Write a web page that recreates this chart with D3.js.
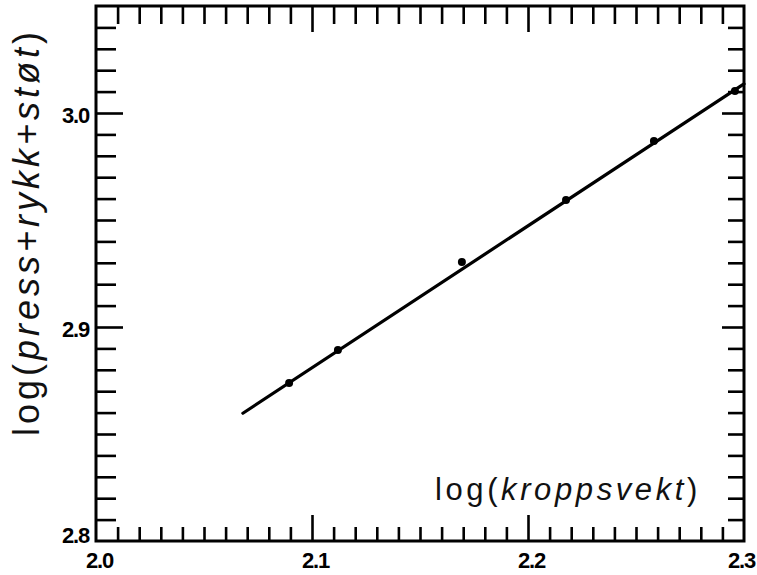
<!DOCTYPE html>
<html>
<head>
<meta charset="utf-8">
<script src="https://cdn.jsdelivr.net/npm/d3@7"></script>
<style>
  html, body { margin: 0; padding: 0; background: #fff; }
  svg { display: block; }
</style>
</head>
<body>
<svg id="chart" width="757" height="575"></svg>
<script>
// Measured points: log(body weight) vs log(press + snatch + clean&jerk)
const logBodyWeight = [2.0894, 2.1120, 2.1694, 2.2176, 2.2583, 2.2958];
const logTotal      = [2.8738, 2.8893, 2.9304, 2.9593, 2.9869, 3.0103];

// Fitted regression line end points
const fitX = [2.068, 2.3];
const fitY = [2.8597, 3.0136];

// Axis ranges and labelled ticks
const xDomain = [2.0, 2.3];
const yDomain = [2.8, 3.05];
const xMajorTicks = [2.0, 2.1, 2.2, 2.3];
const xTickLabels = ["2.0", "2.1", "2.2", "2.3"];
const yMajorTicks = [2.8, 2.9, 3.0];
const yTickLabels = ["2.8", "2.9", "3.0"];
const minorStep = 0.01;

const svg = d3.select("#chart");
const plotLeft = 96, plotRight = 744, plotTop = 6, plotBottom = 541;

const x = d3.scaleLinear().domain(xDomain).range([plotLeft, plotRight]);
const y = d3.scaleLinear().domain(yDomain).range([plotBottom, plotTop]);

const near = (a, b) => Math.abs(a - b) < 1e-6;
const stepsX = Math.round((xDomain[1] - xDomain[0]) / minorStep);
const stepsY = Math.round((yDomain[1] - yDomain[0]) / minorStep);
const xMinor = d3.range(1, stepsX).map(i => +(xDomain[0] + i * minorStep).toFixed(2))
  .filter(v => !xMajorTicks.some(m => near(m, v)));
const yMinor = d3.range(1, stepsY).map(i => +(yDomain[0] + i * minorStep).toFixed(2))
  .filter(v => !yMajorTicks.some(m => near(m, v)));
const xMajorInner = xMajorTicks.filter(v => v > xDomain[0] && v < xDomain[1]);
const yMajorInner = yMajorTicks.filter(v => v > yDomain[0] && v < yDomain[1]);

const tickStroke = 2.6;

function styleTicks(g) {
  g.select(".domain").remove();
  g.selectAll(".tick line").attr("stroke", "#000").attr("stroke-width", tickStroke);
}

// Inward tick marks on all four sides
function ticksOn(axisFn, scale, values, size, transform) {
  svg.append("g")
    .attr("transform", transform)
    .call(axisFn(scale).tickValues(values).tickSize(-size).tickFormat(""))
    .call(styleTicks);
}

ticksOn(d3.axisTop, x, xMinor, 18, `translate(0,${plotTop})`);
ticksOn(d3.axisTop, x, xMajorInner, 26, `translate(0,${plotTop})`);
ticksOn(d3.axisBottom, x, xMinor, 14, `translate(0,${plotBottom})`);
ticksOn(d3.axisBottom, x, xMajorInner, 26, `translate(0,${plotBottom})`);
ticksOn(d3.axisLeft, y, yMinor, 20, `translate(${plotLeft},0)`);
ticksOn(d3.axisLeft, y, yMajorInner, 27, `translate(${plotLeft},0)`);
ticksOn(d3.axisRight, y, yMinor, 16, `translate(${plotRight},0)`);
ticksOn(d3.axisRight, y, yMajorInner, 22, `translate(${plotRight},0)`);

// Tick labels
const labelFont = "'Liberation Sans', Arial, sans-serif";

const xLab = svg.append("g")
  .attr("transform", `translate(0,${plotBottom})`)
  .call(d3.axisBottom(x).tickValues(xMajorTicks).tickSize(0).tickPadding(11)
    .tickFormat((d, i) => xTickLabels[i]));
xLab.select(".domain").remove();
xLab.selectAll("text")
  .attr("font-family", labelFont).attr("font-size", 22).attr("font-weight", "bold")
  .attr("letter-spacing", -1.2).attr("fill", "#000")
  .attr("dx", d => near(d, xDomain[1]) ? -3 : 3);

const yLab = svg.append("g")
  .attr("transform", `translate(${plotLeft},0)`)
  .call(d3.axisLeft(y).tickValues(yMajorTicks).tickSize(0).tickPadding(7)
    .tickFormat((d, i) => yTickLabels[i]));
yLab.select(".domain").remove();
yLab.selectAll("text")
  .attr("font-family", labelFont).attr("font-size", 22).attr("font-weight", "bold")
  .attr("letter-spacing", -1.2).attr("fill", "#000")
  .attr("dy", d => near(d, yDomain[0]) ? "1" : "9");

// Plot frame
svg.append("rect")
  .attr("x", plotLeft).attr("y", plotTop)
  .attr("width", plotRight - plotLeft).attr("height", plotBottom - plotTop)
  .attr("fill", "none").attr("stroke", "#000").attr("stroke-width", 3);

// Regression line
const fit = fitX.map((v, i) => [v, fitY[i]]);
svg.append("path")
  .datum(fit)
  .attr("d", d3.line().x(d => x(d[0])).y(d => y(d[1])))
  .attr("fill", "none").attr("stroke", "#000").attr("stroke-width", 3.2)
  .attr("stroke-linecap", "round");

// Data points
svg.append("g").selectAll("circle")
  .data(logBodyWeight.map((v, i) => [v, logTotal[i]]))
  .join("circle")
  .attr("cx", d => x(d[0])).attr("cy", d => y(d[1]))
  .attr("r", 4).attr("fill", "#000");

// Axis titles
const titleFont = "'Liberation Sans', Arial, sans-serif";

const xt = svg.append("text")
  .attr("x", 435).attr("y", 500)
  .attr("font-family", titleFont).attr("font-size", 31)
  .attr("letter-spacing", 3.6).attr("fill", "#111");
xt.append("tspan").text("log(");
xt.append("tspan").attr("font-style", "italic").text("kroppsvekt");
xt.append("tspan").text(")");

const yt = svg.append("text")
  .attr("transform", "translate(39,436) rotate(-90)")
  .attr("font-family", titleFont).attr("font-size", 36)
  .attr("letter-spacing", 4.0).attr("fill", "#111");
yt.append("tspan").text("log(");
yt.append("tspan").attr("font-style", "italic").text("press+rykk+støt");
yt.append("tspan").text(")");
</script>
</body>
</html>
